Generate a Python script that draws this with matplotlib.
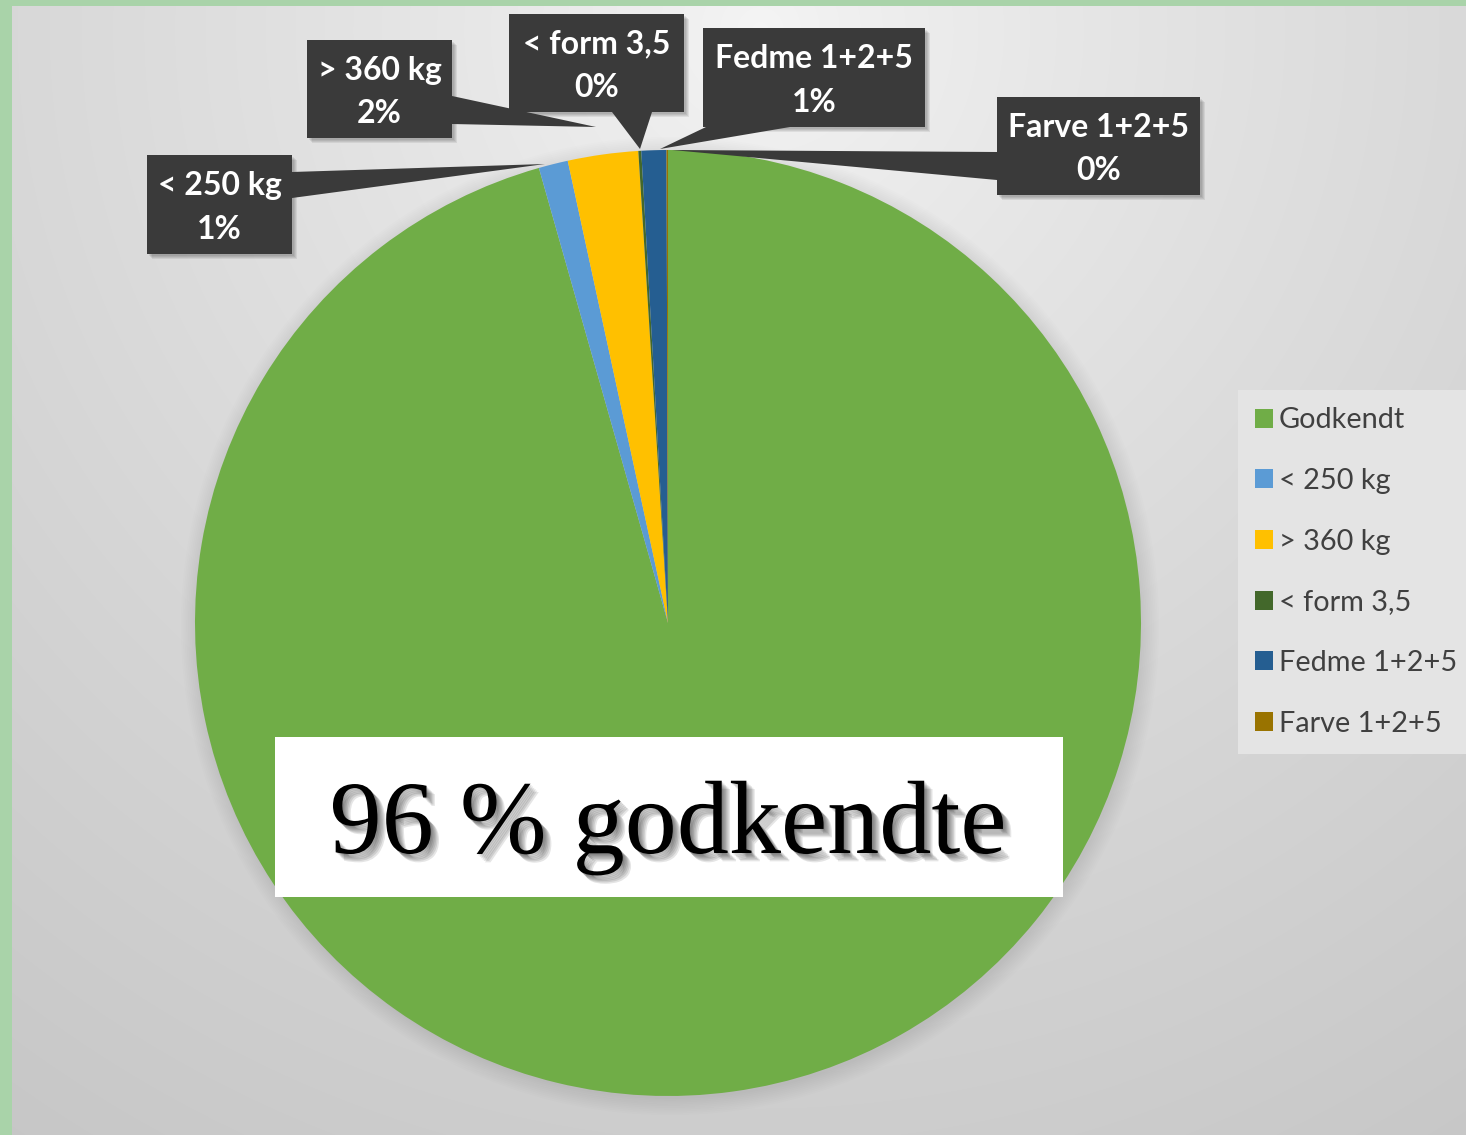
import numpy as np
import matplotlib
matplotlib.use('Agg')
import matplotlib.pyplot as plt
from matplotlib.patches import Polygon, Rectangle, Circle
import matplotlib.patheffects as pe

# ---------------- data ----------------
categories = ['Godkendt', '< 250 kg', '> 360 kg', '< form 3,5', 'Fedme 1+2+5', 'Farve 1+2+5']
values = [95.6, 1.0, 2.4, 0.1, 0.85, 0.05]
colors = ['#70ad47', '#5b9bd5', '#ffc000', '#43682b', '#255e91', '#997300']
headline = '96 % godkendte'

# ---------------- layout ----------------
W, H = 1466, 1135
fig = plt.figure(figsize=(W / 100, H / 100), dpi=100)
ax = fig.add_axes([0, 0, 1, 1])


def fy(y):
    """image row -> axes y"""
    return H - y


# background radial gradient
yy, xx = np.mgrid[0:H, 0:W]
d = np.hypot(xx - 760, yy - 30)
v = 0.96 - 0.18 * (d / 1330.0) ** 0.8
v = np.clip(v, 0.74, 0.97)
bg = np.dstack([v, v, v])
ax.imshow(bg, extent=(0, W, 0, H), origin='upper', zorder=0, interpolation='bilinear')

# light green frame
ax.add_patch(Rectangle((0, 0), 12, H, color='#a9d3a9', zorder=1, lw=0))
ax.add_patch(Rectangle((0, H - 6), W, 6, color='#a9d3a9', zorder=1, lw=0))

# pie
cx, cy, R = 668, fy(623), 473
for k in range(10):
    ax.add_patch(Circle((cx + 2, cy - 3), R + k * 1.8, color='black',
                        alpha=0.008, lw=0, zorder=1.5))
wedges, _ = ax.pie(values, colors=colors, startangle=90, counterclock=False,
                   center=(cx, cy), radius=R,
                   wedgeprops=dict(linewidth=0, zorder=2))

total = sum(values)

# callout boxes for the small slices: (x0, y0, x1, y1), pointer base a, b, tip (image coords)
boxes = [
    ((147, 155, 292, 254), (292, 172), (292, 198), (545, 164)),
    ((307, 40, 452, 138), (452, 96), (452, 124), (596, 127)),
    ((509, 14, 684, 112), (612, 112), (652, 112), (640, 149)),
    ((703, 28, 925, 127), (706, 127), (790, 127), (660, 149)),
    ((997, 97, 1200, 195), (997, 152), (997, 180), (672, 150)),
]
box_color = '#3a3a3a'
for i, (rect, a, b, tip) in enumerate(boxes):
    x0, y0, x1, y1 = rect
    for s in range(4):
        ax.add_patch(Rectangle((x0 + 2 + s, fy(y1) - 2 - s), x1 - x0, y1 - y0,
                               color='black', alpha=0.07, lw=0, zorder=3))
    ax.add_patch(Rectangle((x0, fy(y1)), x1 - x0, y1 - y0, color=box_color, lw=0, zorder=4))
    ax.add_patch(Polygon([(a[0], fy(a[1])), (b[0], fy(b[1])), (tip[0], fy(tip[1]))],
                         closed=True, color=box_color, lw=0, zorder=4))
    cat = categories[i + 1]
    pct = values[i + 1] / total * 100
    ax.text((x0 + x1) / 2, fy((y0 + y1) / 2) - 3, f"{cat}\n{pct:.0f}%",
            ha='center', va='center', color='white', fontsize=23,
            fontweight='bold', family='Lato', linespacing=1.6, zorder=5)

# headline box
ax.add_patch(Rectangle((275, fy(897)), 1063 - 275, 897 - 737, color='white', lw=0, zorder=6))
shadow = [pe.SimplePatchShadow(offset=(o, -o), shadow_rgbFace='black', alpha=0.1)
          for o in (1, 2, 3, 4, 5, 6)]
ax.text(668, fy(853), headline, ha='center', va='baseline', fontsize=75,
        family='Liberation Serif', color='black', zorder=7,
        path_effects=shadow + [pe.Normal()])

# legend
leg = ax.legend(wedges, categories, loc='upper left',
                bbox_to_anchor=(1238 / W, 1 - 390 / H), bbox_transform=fig.transFigure,
                frameon=True, facecolor='#e4e4e4', edgecolor='none', fancybox=False,
                framealpha=1.0, prop=dict(family='Lato', size=20.8),
                labelcolor='#404040', handlelength=0.62, handleheight=0.62,
                handletextpad=0.2, labelspacing=1.2, borderpad=0.6, borderaxespad=0)
leg.set_zorder(8)

ax.set_xlim(0, W)
ax.set_ylim(0, H)
ax.set_aspect('auto')
ax.axis('off')

fig.savefig('out.png', dpi=100)
